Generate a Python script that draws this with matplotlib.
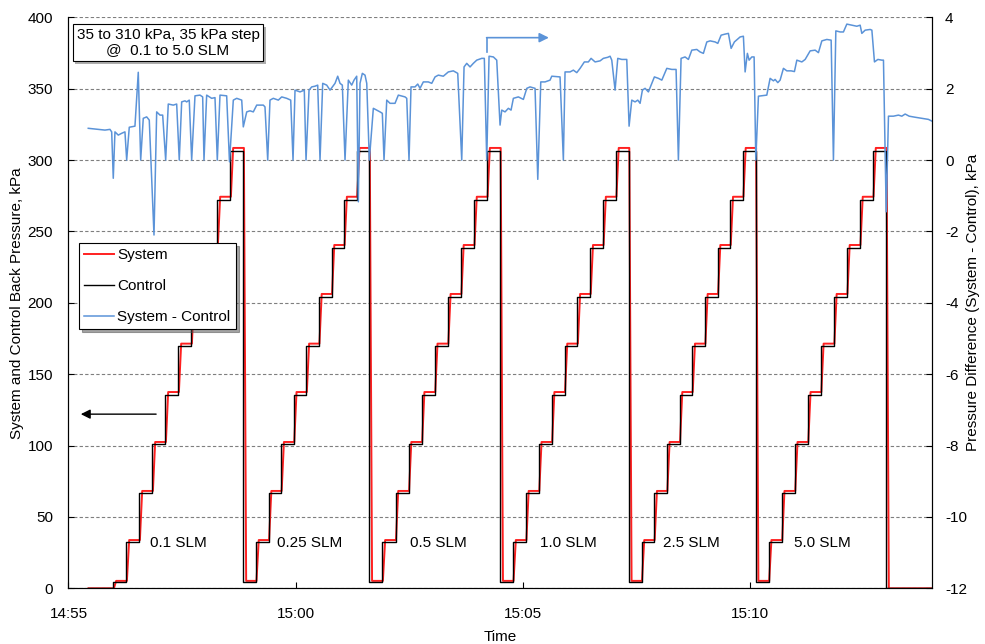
import matplotlib.pyplot as plt
from matplotlib import patheffects

plt.rcParams['font.family'] = ['Liberation Sans', 'DejaVu Sans']
plt.rcParams['font.size'] = 11
plt.rcParams['axes.unicode_minus'] = False

# time axis is minutes after 14:55
tick_minutes = [0, 5, 10, 15]
tick_labels = ['14:55', '15:00', '15:05', '15:10']

# back pressure staircase, kPa (one plateau per 35 kPa step)
cycle_start = [0.99, 3.85, 6.62, 9.50, 12.33, 15.12]
cycle_end = 17.99
run_start, run_stop = 0.44, 19.0
system_levels = [5.2, 33.8, 68.2, 102.5, 137.5, 171.4, 206.2, 240.5, 274.3, 308.5]
control_levels = [4.4, 32.4, 66.8, 101.3, 135.2, 169.5, 204.3, 238.2, 272.0, 306.3]

flow_labels = ['0.1 SLM', '0.25 SLM', '0.5 SLM', '1.0 SLM', '2.5 SLM', '5.0 SLM']
flow_label_time = [2.41, 5.31, 8.15, 10.99, 13.71, 16.58]

# System - Control, kPa
diff_time = [0.436, 0.803, 0.913, 0.951, 0.986, 1.023, 1.096, 1.171, 1.243, 1.281, 1.338, 1.463, 1.536,
             1.589, 1.646, 1.721, 1.778, 1.882, 1.941, 2.014, 2.073, 2.139, 2.196, 2.306, 2.381, 2.438,
             2.491, 2.564, 2.601, 2.658, 2.711, 2.784, 2.894, 2.953, 2.982, 3.041, 3.151, 3.224, 3.275,
             3.334, 3.481, 3.543, 3.627, 3.702, 3.812, 3.847, 3.922, 3.994, 4.067, 4.142, 4.287, 4.324,
             4.384, 4.434, 4.507, 4.617, 4.692, 4.802, 4.890, 4.941, 4.985, 5.095, 5.189, 5.227, 5.293,
             5.352, 5.425, 5.484, 5.535, 5.594, 5.682, 5.755, 5.865, 5.924, 5.975, 6.026, 6.085, 6.158,
             6.232, 6.283, 6.342, 6.378, 6.415, 6.466, 6.525, 6.563, 6.620, 6.708, 6.783, 6.855, 6.906,
             6.943, 7.003, 7.075, 7.185, 7.258, 7.405, 7.443, 7.493, 7.537, 7.625, 7.685, 7.735, 7.808,
             7.918, 7.993, 8.066, 8.138, 8.248, 8.358, 8.468, 8.565, 8.653, 8.704, 8.763, 8.836, 8.908,
             8.983, 9.093, 9.150, 9.203, 9.254, 9.349, 9.423, 9.496, 9.533, 9.606, 9.679, 9.738, 9.789,
             9.899, 10.009, 10.084, 10.156, 10.266, 10.326, 10.392, 10.486, 10.596, 10.634, 10.816,
             10.889, 10.926, 11.036, 11.109, 11.184, 11.257, 11.351, 11.439, 11.499, 11.587, 11.697,
             11.769, 11.866, 11.917, 11.954, 12.027, 12.086, 12.174, 12.284, 12.335, 12.394, 12.467,
             12.526, 12.577, 12.628, 12.687, 12.760, 12.834, 12.892, 12.980, 13.055, 13.165, 13.275,
             13.369, 13.420, 13.479, 13.567, 13.640, 13.715, 13.825, 13.897, 13.970, 14.045, 14.118,
             14.228, 14.287, 14.360, 14.448, 14.520, 14.580, 14.652, 14.778, 14.850, 14.888, 14.938,
             14.976, 15.035, 15.086, 15.123, 15.181, 15.365, 15.438, 15.511, 15.548, 15.607, 15.658,
             15.731, 15.806, 15.900, 15.973, 16.026, 16.136, 16.209, 16.319, 16.429, 16.501, 16.576,
             16.686, 16.781, 16.831, 16.884, 16.979, 17.051, 17.126, 17.236, 17.346, 17.419, 17.456,
             17.529, 17.639, 17.677, 17.734, 17.809, 17.897, 17.932, 17.992, 18.042, 18.152, 18.262,
             18.336, 18.409, 18.497, 18.629, 18.776, 18.921, 19.0]
diff_kpa = [0.89, 0.84, 0.86, 0.79, -0.51, 0.79, 0.70, 0.75, 0.79, 0.0, 0.92, 0.95, 2.46,
            0.0, 1.17, 1.21, 1.12, -2.10, 1.35, 1.26, 1.26, 0.0, 1.57, 1.54, 1.57, 0.0,
            1.63, 1.66, 1.63, 1.68, 0.0, 1.80, 1.82, 1.77, 0.0, 1.82, 1.73, 1.75, 0.0,
            1.82, 1.80, -0.05, 1.68, 1.73, 1.68, 0.93, 1.35, 1.38, 1.35, 1.54, 1.54, 1.49,
            0.0, 1.68, 1.73, 1.68, 1.77, 1.73, 1.68, 0.0, 1.96, 1.91, 1.96, 0.0, 1.96,
            2.05, 2.07, 2.10, 0.0, 2.15, 2.10, 1.96, 2.15, 2.35, 2.15, 2.10, 0.0, 2.24,
            2.10, 2.24, 2.35, -1.17, 2.15, 2.43, 2.38, 2.15, 0.0, 1.45, 1.40, 1.35, 1.31,
            0.0, 1.68, 1.59, 1.59, 1.82, 1.77, 1.73, 0.0, 2.05, 2.05, 2.13, 2.01, 2.19,
            2.19, 2.15, 2.33, 2.38, 2.35, 2.47, 2.50, 2.43, 0.0, 2.61, 2.71, 2.61, 2.71,
            2.80, 2.85, 2.85, 0.0, 2.91, 2.89, 2.80, 0.98, 1.40, 1.35, 1.45, 1.40, 1.73,
            1.77, 1.70, 2.01, 2.05, 2.01, -0.54, 2.19, 2.19, 2.24, 2.35, 2.33,
            0.0, 2.47, 2.47, 2.52, 2.45, 2.57, 2.75, 2.75, 2.85, 2.75, 2.78,
            2.85, 2.88, 2.91, 2.80, 1.96, 2.85, 2.82, 2.82, 0.95, 1.68, 1.63,
            1.68, 1.59, 1.96, 2.01, 1.91, 2.15, 2.33, 2.29, 2.24, 2.57, 2.54,
            2.54, 0.0, 2.85, 2.89, 2.82, 3.08, 3.10, 3.03, 2.99, 3.31, 3.34,
            3.31, 3.27, 3.50, 3.53, 3.55, 3.13, 3.31, 3.45, 3.47, 2.47, 2.99,
            2.80, 2.89, 2.89, 0.0, 1.79, 1.82, 2.29, 2.22, 2.26, 2.17, 2.24,
            2.57, 2.50, 2.50, 2.48, 2.80, 2.75, 2.82, 3.06, 3.08, 3.01, 3.34,
            3.38, 3.36, 0.0, 3.62, 3.59, 3.59, 3.81, 3.78, 3.75, 3.78, 3.55,
            3.64, 3.66, 3.64, 2.75, 2.82, 2.80, 2.80, -1.45, 1.23, 1.23, 1.26,
            1.23, 1.29, 1.23, 1.20, 1.17, 1.14, 1.09]


def staircase(levels, lag=0.0, ramp=0.0):
    # plateaus split evenly inside each cycle
    t = [run_start, cycle_start[0] - 0.03]
    p = [0.0, 0.0]
    bounds = cycle_start + [cycle_end]
    prev = 0.0
    for k in range(len(cycle_start)):
        s, e = bounds[k], bounds[k + 1]
        dt = (e - s) / len(levels)
        for j, lev in enumerate(levels):
            tj = s + j * dt + lag
            t += [tj, tj + ramp]
            p += [prev, lev]
            prev = lev
    t += [cycle_end + lag, cycle_end + lag + ramp, run_stop]
    p += [prev, 0.0, 0.0]
    return t, p


blue = '#5B93D8'
fig = plt.figure(figsize=(9.85, 6.44), dpi=100)
ax = fig.add_axes([0.0695, 0.0865, 0.8767, 0.8866])
ax2 = ax.twinx()

st, sp = staircase(system_levels, lag=0.01, ramp=0.05)
ct, cp = staircase(control_levels)
l1, = ax.plot(st, sp, color='#FF2020', lw=1.4, label='System')
l2, = ax.plot(ct, cp, color='black', lw=1.0, label='Control')
l3, = ax2.plot(diff_time, diff_kpa, color=blue, lw=1.1, label='System - Control')

ax.set_xlim(0, 19)
ax.set_ylim(0, 400)
ax2.set_ylim(-12, 4)
ax.set_yticks(range(0, 401, 50))
ax2.set_yticks(range(-12, 5, 2))
ax.set_xticks(tick_minutes)
ax.set_xticklabels(tick_labels)
ax.yaxis.grid(True, ls=(0, (3, 2)), color='#7F7F7F', lw=0.8)
ax.set_axisbelow(True)

for a in (ax, ax2):
    a.spines['top'].set_visible(False)
    a.tick_params(direction='in', length=4, labelsize=11)
ax.spines['bottom'].set_color('#404040')
ax.tick_params(axis='y', pad=11)
ax.tick_params(axis='x', pad=13.5)
ax2.tick_params(axis='y', pad=9.4)

ax.set_xlabel('Time', fontsize=11, labelpad=6.5)
ax.set_ylabel('System and Control Back Pressure, kPa', fontsize=11)
ax.yaxis.set_label_coords(-0.051, 0.5)
ax2.set_ylabel('Pressure Difference (System - Control), kPa', fontsize=11)
ax2.yaxis.set_label_coords(1.0395, 0.5)

for lab, tx in zip(flow_labels, flow_label_time):
    ax.text(tx, 31.5, lab, ha='center', va='center', fontsize=11)

# direction arrows
ax.annotate('', xy=(0.21, 122), xytext=(1.99, 122),
            arrowprops=dict(arrowstyle='-|>', color='black', lw=1.0, mutation_scale=14))
ax2.plot([9.20, 9.20], [3.03, 3.43], color=blue, lw=1.2)
ax2.annotate('', xy=(10.57, 3.43), xytext=(9.20, 3.43),
             arrowprops=dict(arrowstyle='-|>', color=blue, lw=1.2, mutation_scale=14,
                             shrinkA=0, shrinkB=0))

note = ax2.text(0.1152, 0.956, '35 to 310 kPa, 35 kPa step\n@  0.1 to 5.0 SLM',
                transform=ax2.transAxes, ha='center', va='center', ma='center',
                linespacing=1.13, fontsize=11,
                bbox=dict(boxstyle='square,pad=0.25', fc='white', ec='black', lw=0.8))
note.get_bbox_patch().set_path_effects(
    [patheffects.withSimplePatchShadow(offset=(2, -2), shadow_rgbFace='0.55', alpha=0.7)])

leg = ax2.legend([l1, l2, l3], ['System', 'Control', 'System - Control'],
                 loc='upper left', bbox_to_anchor=(0.0122, 0.6047), borderaxespad=0,
                 fancybox=False, shadow=True, edgecolor='black', framealpha=1,
                 labelspacing=1.1, handlelength=1.96, handletextpad=0.2,
                 borderpad=0.35, fontsize=11)
leg.get_frame().set_linewidth(0.8)

fig.savefig('out.png', dpi=100)
